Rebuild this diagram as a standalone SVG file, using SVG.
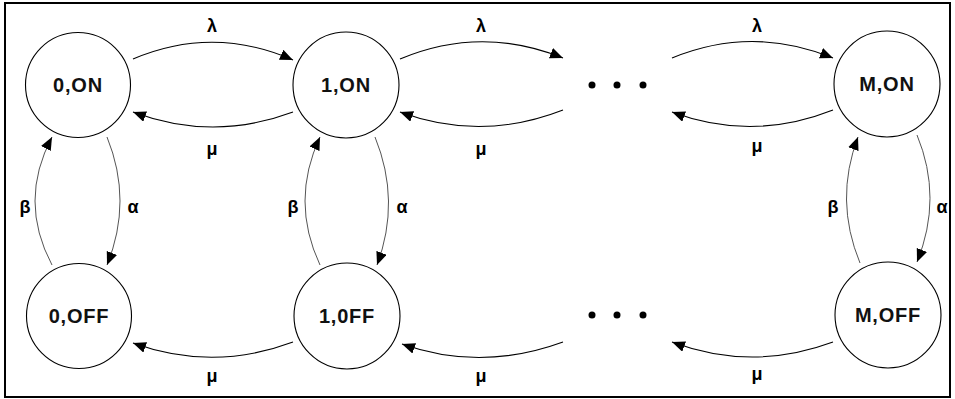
<svg xmlns="http://www.w3.org/2000/svg" width="955" height="399" viewBox="0 0 955 399">
<style>
.st{fill:#fff;stroke:#000;stroke-width:1.1}
.lb{font-family:"Liberation Sans",Arial,sans-serif;font-size:20px;font-weight:bold;text-anchor:middle;fill:#111;letter-spacing:0.8px}
.gr{font-family:"Liberation Sans",Arial,sans-serif;font-size:18px;font-weight:bold;text-anchor:middle;fill:#000}
.h{fill:none;stroke:#000;stroke-width:1.1;marker-end:url(#ah)}
.v{fill:none;stroke:#555;stroke-width:1;marker-end:url(#ah)}
.dot{fill:#000}
</style>
<defs>
<marker id="ah" markerUnits="userSpaceOnUse" markerWidth="14" markerHeight="12" refX="13" refY="5.5" orient="auto">
<path d="M0,0 L13,5.5 L0,11 Z" fill="#000"/>
</marker>
</defs>
<rect x="5" y="3" width="945" height="394" fill="#fff" stroke="#000" stroke-width="2"/>
<g id="connectors">
<path class="h" d="M133,59 Q213,25 293,60"/>
<path class="h" d="M293,112 Q213,142 133,112"/>
<path class="h" d="M400,59 Q481,25 563,58"/>
<path class="h" d="M563,110 Q481,142 400,112"/>
<path class="h" d="M672,58 Q752,25 833,58"/>
<path class="h" d="M833,110 Q752,142 672,112"/>
<path class="h" d="M293,342 Q213,372 133,343"/>
<path class="h" d="M563,342 Q481,372 402,344"/>
<path class="h" d="M833,342 Q752,372 672,342"/>
<path class="v" d="M52,265 Q18,201 52,137"/>
<path class="v" d="M107,137 Q133,201 107,265"/>
<path class="v" d="M320,265 Q290,201 320,137"/>
<path class="v" d="M375,137 Q401,201 377,265"/>
<path class="v" d="M860,263 Q834,200 858,137"/>
<path class="v" d="M917,135 Q943,198 917,262"/>
<text class="gr" x="212" y="32">λ</text>
<text class="gr" x="481" y="32">λ</text>
<text class="gr" x="757" y="32">λ</text>
<text class="gr" x="212" y="155">μ</text>
<text class="gr" x="481" y="155">μ</text>
<text class="gr" x="757" y="152">μ</text>
<text class="gr" x="212" y="382">μ</text>
<text class="gr" x="481" y="382">μ</text>
<text class="gr" x="757" y="380">μ</text>
<text class="gr" x="25" y="213">β</text>
<text class="gr" x="133" y="213">α</text>
<text class="gr" x="293" y="213">β</text>
<text class="gr" x="402" y="213">α</text>
<text class="gr" x="833" y="213">β</text>
<text class="gr" x="942" y="213">α</text>
</g>
<g id="n0on"><circle class="st" cx="78" cy="85" r="52.5"/><text class="lb" x="78" y="92">0,ON</text></g>
<g id="n1on"><circle class="st" cx="346" cy="85" r="53"/><text class="lb" x="346" y="92">1,ON</text></g>
<g id="nMon"><circle class="st" cx="887" cy="84" r="53"/><text class="lb" x="887" y="91">M,ON</text></g>
<g id="n0off"><circle class="st" cx="79" cy="316" r="52.5"/><text class="lb" x="79" y="323">0,OFF</text></g>
<g id="n1off"><circle class="st" cx="347" cy="316" r="53"/><text class="lb" x="347" y="323">1,0FF</text></g>
<g id="nMoff"><circle class="st" cx="888" cy="315" r="53"/><text class="lb" x="888" y="322">M,OFF</text></g>
<g id="dots-top"><circle class="dot" cx="592" cy="85" r="3.5"/><circle class="dot" cx="617" cy="85" r="3.5"/><circle class="dot" cx="643" cy="85" r="3.5"/></g>
<g id="dots-bottom"><circle class="dot" cx="592" cy="315" r="3.5"/><circle class="dot" cx="617" cy="315" r="3.5"/><circle class="dot" cx="643" cy="315" r="3.5"/></g>
</svg>
